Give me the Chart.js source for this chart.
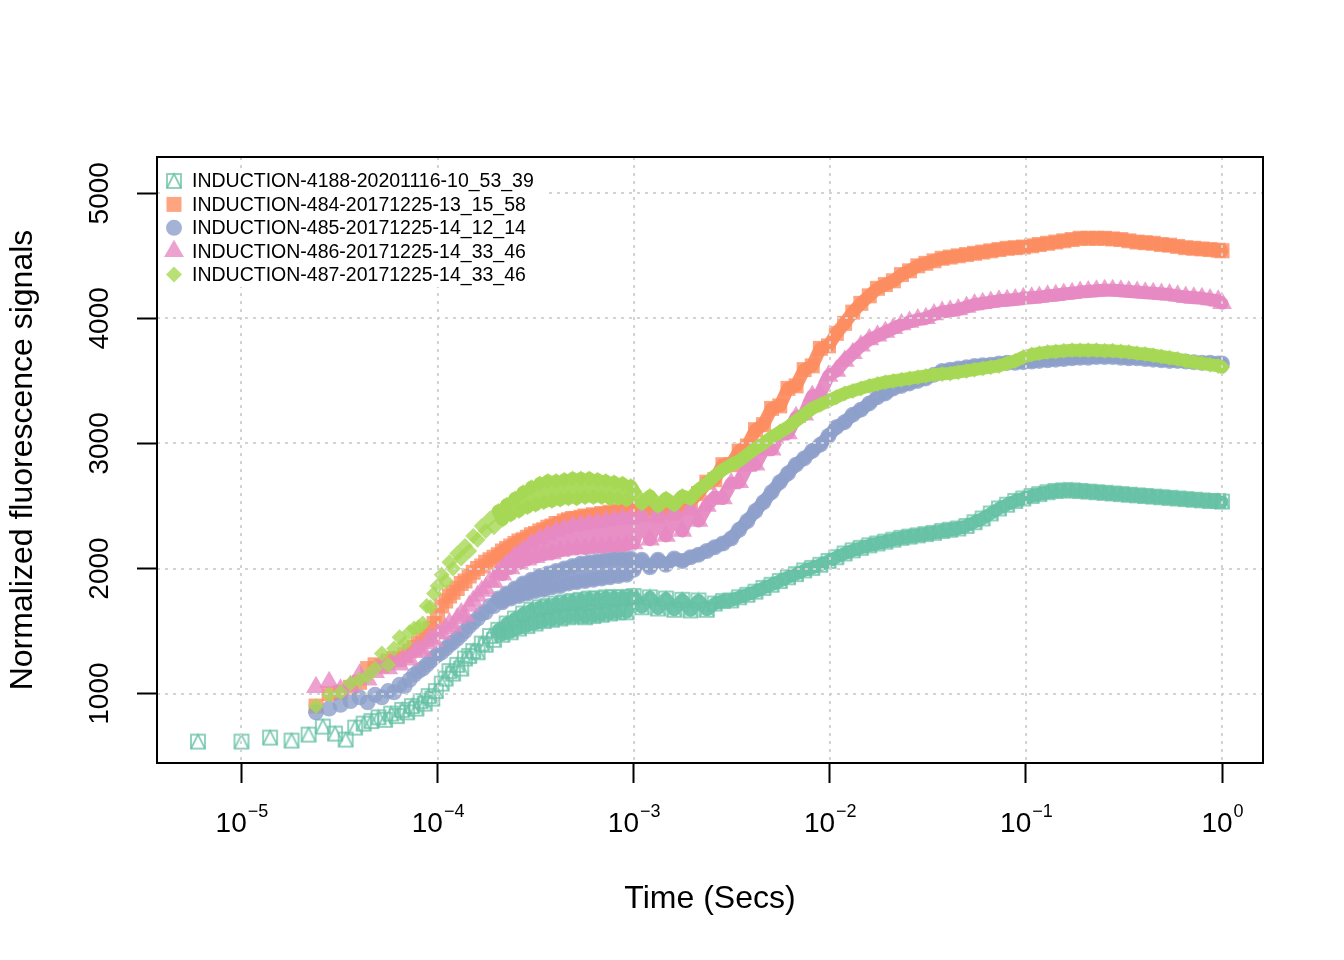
<!DOCTYPE html>
<html>
<head>
<meta charset="utf-8">
<title>Induction curves</title>
<script src="https://cdn.jsdelivr.net/npm/chart.js@4.4.1/dist/chart.umd.min.js"></script>
<style>
  html, body { margin: 0; padding: 0; background: #fff; }
  #chart { display: block; }
</style>
</head>
<body>
<canvas id="chart" width="1344" height="960"></canvas>
<script>
// Induction curves, R base-graphics look (Set2 palette, log time axis)

const FONT = '"Liberation Sans", Arial, sans-serif';
Chart.defaults.font.family = FONT;
Chart.defaults.color = '#000000';

// Legend labels, one per series
const seriesLabels = [
  'INDUCTION-4188-20201116-10_53_39',
  'INDUCTION-484-20171225-13_15_58',
  'INDUCTION-485-20171225-14_12_14',
  'INDUCTION-486-20171225-14_33_46',
  'INDUCTION-487-20171225-14_33_46',
];

// Tick values
const xTickValues = [1e-5, 1e-4, 1e-3, 1e-2, 1e-1, 1];
const yTickValues = [1000, 2000, 3000, 4000, 5000];

// Time (s) : first samples of the 4188 run
const timeEarlyTeal = [
  6e-6, 10e-6, 14e-6, 18e-6, 22e-6, 26e-6, 30e-6, 34e-6, 38e-6, 42e-6,
  46e-6, 50e-6, 54e-6, 58e-6, 62e-6, 66e-6, 70e-6, 74e-6, 78e-6, 82e-6,
  86e-6, 90e-6, 94e-6, 98e-6,
];
// Time (s) : first samples of the 484-487 runs
const timeEarly = [
  2.4e-5, 2.8e-5, 3.2e-5, 3.6e-5, 4.0e-5, 4.4e-5, 4.8e-5, 5.2e-5, 5.6e-5, 6.0e-5,
  6.4e-5, 6.8e-5, 7.2e-5, 7.6e-5, 8.0e-5, 8.4e-5, 8.8e-5, 9.2e-5, 9.6e-5, 10.0e-5,
];
// Time (s) : 1e-4 .. 1e-3, shared by all runs
const timeMid = [
  1.05e-4, 1.1e-4, 1.15e-4, 1.2e-4, 1.26e-4, 1.32e-4, 1.38e-4, 1.45e-4, 1.52e-4, 1.6e-4,
  1.68e-4, 1.76e-4, 1.85e-4, 1.94e-4, 2.04e-4, 2.14e-4, 2.25e-4, 2.36e-4, 2.48e-4, 2.6e-4,
  2.73e-4, 2.87e-4, 3.01e-4, 3.16e-4, 3.32e-4, 3.48e-4, 3.65e-4, 3.83e-4, 4.02e-4, 4.22e-4,
  4.43e-4, 4.65e-4, 4.88e-4, 5.12e-4, 5.38e-4, 5.65e-4, 5.93e-4, 6.23e-4, 6.54e-4, 6.87e-4,
  7.21e-4, 7.57e-4, 7.95e-4, 8.35e-4, 8.77e-4, 9.2e-4, 9.66e-4,
];
// Time (s) : 1e-3 .. 1, shared by all runs
const timeLate = [
  1.0e-3, 1.1e-3, 1.21e-3, 1.33e-3, 1.46e-3, 1.61e-3, 1.77e-3, 1.95e-3, 2.14e-3, 2.36e-3,
  2.59e-3, 2.85e-3, 3.14e-3, 3.45e-3, 3.8e-3, 4.18e-3, 4.59e-3, 5.05e-3, 5.56e-3, 6.12e-3,
  6.73e-3, 7.4e-3, 8.14e-3, 8.95e-3, 9.85e-3,
  1.08e-2, 1.19e-2, 1.31e-2, 1.44e-2, 1.59e-2, 1.75e-2, 1.92e-2, 2.11e-2, 2.32e-2, 2.55e-2,
  2.81e-2, 3.09e-2, 3.4e-2, 3.74e-2, 4.11e-2, 4.52e-2, 4.98e-2, 5.47e-2, 6.02e-2, 6.62e-2,
  7.29e-2, 8.02e-2, 8.82e-2, 9.7e-2,
  1.07e-1, 1.17e-1, 1.29e-1, 1.42e-1, 1.56e-1, 1.72e-1, 1.89e-1, 2.08e-1, 2.29e-1, 2.52e-1,
  2.77e-1, 3.05e-1, 3.35e-1, 3.69e-1, 4.06e-1, 4.46e-1, 4.91e-1, 5.4e-1, 5.94e-1, 6.53e-1,
  7.18e-1, 7.9e-1, 8.69e-1, 9.56e-1, 1.0,
];

// INDUCTION-4188
const tealEarly = [
  616, 616, 648, 624, 672, 736, 680, 632, 728, 760,
  780, 810, 790, 840, 820, 870, 850, 900, 880, 940,
  920, 980, 960, 1020,
];
const tealMid = [
  1080, 1120, 1180, 1160, 1230, 1200, 1280, 1300, 1340, 1330,
  1400, 1390, 1460, 1430, 1510, 1470, 1560, 1490, 1600, 1520,
  1640, 1540, 1670, 1560, 1690, 1580, 1700, 1590, 1720, 1600,
  1730, 1610, 1740, 1620, 1750, 1610, 1760, 1620, 1760, 1630,
  1770, 1640, 1770, 1650, 1770, 1650, 1770,
];
const tealLate = [
  1780, 1690, 1770, 1680, 1760, 1670, 1750, 1665, 1745, 1670,
  1720, 1740, 1745, 1770, 1790, 1815, 1845, 1870, 1900, 1930,
  1955, 1985, 2005, 2030, 2060,
  2090, 2120, 2145, 2165, 2185, 2200, 2215, 2230, 2245, 2255,
  2265, 2275, 2285, 2300, 2310, 2320, 2340, 2370, 2400, 2440,
  2480, 2510, 2540, 2560,
  2580, 2595, 2610, 2620, 2625, 2625, 2620, 2615, 2610, 2605,
  2600, 2595, 2590, 2585, 2580, 2575, 2570, 2565, 2560, 2555,
  2550, 2545, 2540, 2540, 2535,
];

// INDUCTION-484
const orangeEarly = [
  900, 1000, 1010, 1050, 1090, 1200, 1230, 1220, 1260, 1280,
  1270, 1310, 1340, 1370, 1400, 1430, 1460, 1520, 1560, 1620,
];
const orangeMid = [
  1700, 1740, 1780, 1810, 1840, 1880, 1900, 1940, 1970, 2000,
  2020, 2050, 2070, 2090, 2110, 2140, 2160, 2180, 2200, 2220,
  2230, 2250, 2270, 2280, 2300, 2310, 2330, 2340, 2360, 2360,
  2380, 2390, 2400, 2400, 2410, 2420, 2410, 2430, 2420, 2440,
  2430, 2450, 2440, 2460, 2450, 2470, 2460,
];
const orangeLate = [
  2500, 2430, 2490, 2420, 2490, 2440, 2520, 2540, 2600, 2690,
  2710, 2830, 2830, 2940, 2980, 3110, 3150, 3280, 3300, 3440,
  3460, 3590, 3620, 3760, 3780,
  3880, 3960, 4050, 4120, 4180, 4240, 4270, 4300, 4350, 4380,
  4420, 4440, 4460, 4480, 4490, 4500, 4510, 4520, 4530, 4540,
  4550, 4560, 4565, 4570,
  4580, 4590, 4600, 4610, 4620, 4630, 4640, 4640, 4640, 4640,
  4635, 4630, 4620, 4610, 4605, 4600, 4590, 4585, 4575, 4565,
  4560, 4555, 4550, 4545, 4540,
];

// INDUCTION-485
const blueEarly = [
  850, 880, 910, 940, 970, 930, 990, 970, 1020, 1010,
  1070, 1060, 1110, 1150, 1180, 1200, 1230, 1260, 1290, 1310,
];
const blueMid = [
  1330, 1360, 1390, 1410, 1440, 1470, 1500, 1540, 1570, 1600,
  1640, 1650, 1700, 1700, 1760, 1730, 1800, 1760, 1840, 1780,
  1880, 1800, 1910, 1820, 1940, 1830, 1960, 1850, 1980, 1860,
  2000, 1880, 2020, 1890, 2040, 1900, 2050, 1910, 2060, 1920,
  2070, 1930, 2080, 1940, 2080, 1950, 2080,
];
const blueLate = [
  1990, 2070, 2010, 2070, 2030, 2080, 2060, 2090, 2110, 2140,
  2170, 2200, 2240, 2310, 2380, 2460, 2530, 2610, 2690, 2760,
  2830, 2880, 2940, 2990, 3060,
  3130, 3170, 3230, 3270, 3320, 3370, 3400, 3440, 3460, 3480,
  3500, 3520, 3550, 3580, 3590, 3600, 3610, 3620, 3625, 3630,
  3640, 3645, 3645, 3650,
  3655, 3660, 3665, 3670, 3675, 3680, 3685, 3685, 3690, 3690,
  3690, 3685, 3680, 3680, 3675, 3670, 3665, 3660, 3660, 3655,
  3650, 3645, 3645, 3640, 3640,
];

// INDUCTION-486
const pinkEarly = [
  1050, 1090, 1030, 1060, 1150, 1110, 1170, 1230, 1200, 1260,
  1230, 1290, 1270, 1330, 1360, 1340, 1400, 1440, 1420, 1480,
];
const pinkMid = [
  1480, 1520, 1560, 1540, 1600, 1640, 1620, 1700, 1740, 1780,
  1820, 1840, 1900, 1890, 1970, 1950, 2040, 2000, 2100, 2040,
  2150, 2070, 2200, 2090, 2240, 2110, 2270, 2120, 2300, 2140,
  2320, 2150, 2340, 2160, 2350, 2160, 2360, 2170, 2370, 2170,
  2380, 2180, 2390, 2180, 2400, 2190, 2400,
];
const pinkLate = [
  2200, 2420, 2230, 2440, 2260, 2450, 2300, 2470, 2380, 2500,
  2570, 2560, 2680, 2690, 2820, 2830, 2950, 2950, 3070, 3080,
  3210, 3230, 3380, 3400, 3540,
  3580, 3660, 3720, 3780, 3830, 3860, 3890, 3920, 3950, 3970,
  3990, 4000, 4030, 4050, 4060, 4070, 4090, 4110, 4120, 4130,
  4140, 4145, 4150, 4160,
  4165, 4170, 4180, 4185, 4195, 4200, 4210, 4215, 4220, 4225,
  4225, 4220, 4215, 4210, 4205, 4200, 4195, 4190, 4180, 4170,
  4165, 4160, 4150, 4140, 4120,
];

// INDUCTION-487
const greenEarly = [
  900, 990, 1010, 1080, 1110, 1140, 1200, 1320, 1230, 1360,
  1450, 1400, 1490, 1520, 1530, 1560, 1700, 1690, 1800, 1860,
];
const greenMid = [
  1950, 1900, 2050, 2000, 2120, 2080, 2180, 2140, 2260, 2230,
  2340, 2300, 2400, 2330, 2460, 2390, 2510, 2430, 2560, 2460,
  2610, 2490, 2650, 2510, 2680, 2530, 2700, 2540, 2700, 2550,
  2710, 2560, 2720, 2560, 2720, 2570, 2720, 2570, 2710, 2570,
  2700, 2560, 2690, 2560, 2680, 2550, 2660,
];
const greenLate = [
  2620, 2520, 2580, 2500, 2560, 2510, 2580, 2560, 2630, 2680,
  2740, 2790, 2830, 2860, 2910, 2960, 3000, 3050, 3090, 3130,
  3180, 3230, 3280, 3310, 3340,
  3370, 3400, 3420, 3440, 3460, 3475, 3490, 3500, 3510, 3520,
  3530, 3540, 3550, 3555, 3560, 3570, 3580, 3590, 3600, 3610,
  3620, 3640, 3660, 3690,
  3710, 3720, 3730, 3735, 3740, 3745, 3745, 3745, 3745, 3740,
  3740, 3735, 3730, 3720, 3715, 3705, 3695, 3685, 3675, 3660,
  3650, 3640, 3630, 3620, 3610,
];

// Styles (RColorBrewer Set2, alpha 0.8)
const seriesColors = ['#66C2A5', '#FC8D62', '#8DA0CB', '#E78AC3', '#A6D854'];
const ALPHA = 0.8;
const BAND_FROM = 2e-4; // past this time the samples are so dense they merge into a band

function rgba(hex, a) {
  const n = parseInt(hex.slice(1), 16);
  return `rgba(${(n >> 16) & 255}, ${(n >> 8) & 255}, ${n & 255}, ${a})`;
}

// pch 14: open square with a triangle inside
function squareTriangle(color) {
  const c = document.createElement('canvas');
  c.width = 18;
  c.height = 18;
  const g = c.getContext('2d');
  g.strokeStyle = color;
  g.lineWidth = 1.8;
  g.strokeRect(2, 2, 14, 14);
  g.beginPath();
  g.moveTo(2, 16);
  g.lineTo(9, 2);
  g.lineTo(16, 16);
  g.stroke();
  return c;
}

const markerStyles = [squareTriangle(rgba(seriesColors[0], ALPHA)), 'rect', 'circle', 'triangle', 'rectRot'];
const markerRadius = [9, 10.6, 8, 11.5, 8];

function toPoints(times, values) {
  return times.map((t, i) => ({ x: t, y: values[i] }));
}

const tealTimes = timeEarlyTeal.concat(timeMid, timeLate);
const otherTimes = timeEarly.concat(timeMid, timeLate);
const seriesValues = [
  tealEarly.concat(tealMid, tealLate),
  orangeEarly.concat(orangeMid, orangeLate),
  blueEarly.concat(blueMid, blueLate),
  pinkEarly.concat(pinkMid, pinkLate),
  greenEarly.concat(greenMid, greenLate),
];

const datasets = seriesLabels.map((label, i) => ({
  label,
  data: toPoints(i === 0 ? tealTimes : otherTimes, seriesValues[i]),
  pointStyle: markerStyles[i],
  pointRadius: markerRadius[i],
  pointBackgroundColor: rgba(seriesColors[i], ALPHA),
  pointBorderColor: 'rgba(0,0,0,0)',
  pointBorderWidth: 0,
  showLine: true,
  borderColor: rgba(seriesColors[i], 0.95),
  borderWidth: 13,
  borderJoinStyle: 'round',
  borderCapStyle: 'round',
  segment: {
    borderColor: c => (c.p0.parsed.x < BAND_FROM ? 'rgba(0,0,0,0)' : undefined),
  },
  order: seriesLabels.length - i, // first series underneath, last on top
}));

// Draw a legend key the same way the points are drawn
function drawKey(ctx, i, x, y) {
  const style = markerStyles[i];
  const r = markerRadius[i];
  if (typeof style !== 'string') {
    ctx.drawImage(style, x - style.width / 2, y - style.height / 2);
    return;
  }
  ctx.fillStyle = rgba(seriesColors[i], ALPHA);
  ctx.beginPath();
  if (style === 'rect') {
    const s = r * Math.SQRT1_2;
    ctx.rect(x - s, y - s, 2 * s, 2 * s);
  } else if (style === 'circle') {
    ctx.arc(x, y, r, 0, Math.PI * 2);
  } else if (style === 'triangle') {
    ctx.moveTo(x, y - r);
    ctx.lineTo(x + r * Math.sin(2 * Math.PI / 3), y - r * Math.cos(2 * Math.PI / 3));
    ctx.lineTo(x + r * Math.sin(4 * Math.PI / 3), y - r * Math.cos(4 * Math.PI / 3));
    ctx.closePath();
  } else {
    ctx.moveTo(x - r, y);
    ctx.lineTo(x, y - r);
    ctx.lineTo(x + r, y);
    ctx.lineTo(x, y + r);
    ctx.closePath();
  }
  ctx.fill();
}

// Grid on top of points, box, legend and tick labels, like R does it
const rPlotPlugin = {
  id: 'rPlot',
  afterDatasetsDraw(chart) {
    const { ctx, chartArea: a, scales: { x, y } } = chart;
    ctx.save();

    // dotted lightgray grid
    ctx.strokeStyle = '#D3D3D3';
    ctx.lineWidth = 2;
    ctx.setLineDash([3, 5]);
    ctx.beginPath();
    xTickValues.forEach(v => {
      const px = Math.round(x.getPixelForValue(v));
      ctx.moveTo(px, a.top);
      ctx.lineTo(px, a.bottom);
    });
    yTickValues.forEach(v => {
      const py = Math.round(y.getPixelForValue(v));
      ctx.moveTo(a.left, py);
      ctx.lineTo(a.right, py);
    });
    ctx.stroke();
    ctx.setLineDash([]);

    // legend, top left, white background, no frame
    const lx = a.left + 7;
    const ly = a.top + 12;
    ctx.fillStyle = '#FFFFFF';
    ctx.fillRect(lx, ly, 380, 118);
    ctx.font = `19.5px ${FONT}`;
    ctx.textAlign = 'left';
    ctx.textBaseline = 'middle';
    seriesLabels.forEach((label, i) => {
      const ry = ly + 12 + i * 23.4;
      drawKey(ctx, i, a.left + 17, ry);
      ctx.fillStyle = '#000000';
      ctx.fillText(label, a.left + 35, ry + 1);
    });

    // box
    ctx.strokeStyle = '#000000';
    ctx.lineWidth = 2;
    ctx.strokeRect(a.left, a.top, a.right - a.left, a.bottom - a.top);

    // x tick labels: 10 with a superscript exponent
    ctx.fillStyle = '#000000';
    ctx.textAlign = 'left';
    ctx.textBaseline = 'alphabetic';
    xTickValues.forEach(v => {
      const e = Math.round(Math.log10(v));
      const base = '10';
      const sup = e < 0 ? '\u2212' + (-e) : String(e);
      ctx.font = `28px ${FONT}`;
      const wb = ctx.measureText(base).width;
      ctx.font = `18px ${FONT}`;
      const ws = ctx.measureText(sup).width;
      const x0 = x.getPixelForValue(v) - (wb + ws) / 2;
      ctx.font = `28px ${FONT}`;
      ctx.fillText(base, x0, a.bottom + 69);
      ctx.font = `18px ${FONT}`;
      ctx.fillText(sup, x0 + wb + 1, a.bottom + 54);
    });

    // y tick labels, written upwards
    ctx.font = `28px ${FONT}`;
    ctx.textAlign = 'center';
    ctx.textBaseline = 'middle';
    yTickValues.forEach(v => {
      ctx.save();
      ctx.translate(a.left - 57, y.getPixelForValue(v));
      ctx.rotate(-Math.PI / 2);
      ctx.fillText(String(v), 0, 0);
      ctx.restore();
    });

    ctx.restore();
  },
};

const axisLine = {
  grid: {
    drawOnChartArea: false,
    drawTicks: true,
    tickLength: 20,
    tickColor: '#000000',
    tickWidth: 2,
  },
  border: { display: true, color: '#000000', width: 2 },
  ticks: { display: false },
};

new Chart(document.getElementById('chart'), {
  type: 'scatter',
  data: { datasets },
  options: {
    responsive: false,
    animation: false,
    devicePixelRatio: 1,
    events: [],
    layout: { padding: { left: 0, top: 157, right: 81, bottom: 0 } },
    plugins: {
      legend: { display: false },
      tooltip: { enabled: false },
    },
    scales: {
      x: {
        type: 'logarithmic',
        min: 3.71e-6,
        max: 1.618,
        ...axisLine,
        afterBuildTicks: scale => { scale.ticks = xTickValues.map(v => ({ value: v })); },
        afterFit: scale => { scale.height = 197; },
        title: {
          display: true,
          text: 'Time (Secs)',
          color: '#000000',
          font: { size: 32, family: FONT },
          padding: { top: 0, bottom: 42 },
        },
      },
      y: {
        type: 'linear',
        min: 445,
        max: 5290,
        ...axisLine,
        afterBuildTicks: scale => { scale.ticks = yTickValues.map(v => ({ value: v })); },
        afterFit: scale => { scale.width = 157; },
        title: {
          display: true,
          text: 'Normalized fluorescence signals',
          color: '#000000',
          font: { size: 32, family: FONT },
          padding: { top: 4, bottom: 0 },
        },
      },
    },
  },
  plugins: [rPlotPlugin],
});
</script>
</body>
</html>
